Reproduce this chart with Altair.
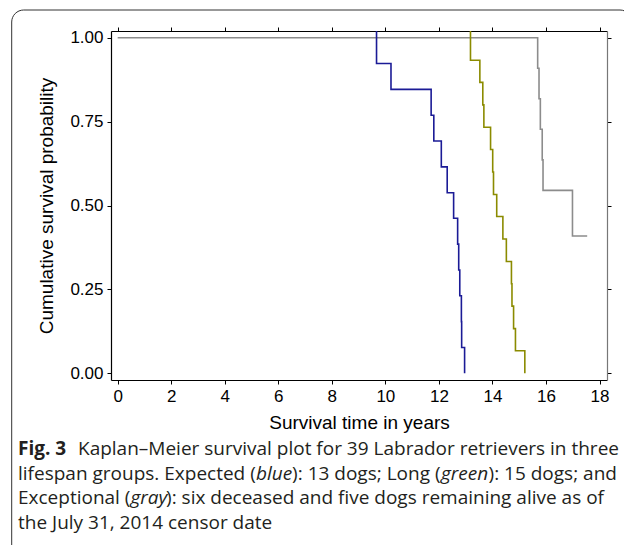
import altair as alt
import pandas as pd

# ---------------- data ----------------
Y_TOP = 1.02  # curves enter from the top edge of the plot

expected_time = [9.67, 9.67, 10.21, 11.71, 11.81, 12.09, 12.31, 12.55, 12.70, 12.74, 12.78, 12.84, 12.85, 12.96]
expected_surv = [Y_TOP, 0.923, 0.846, 0.769, 0.692, 0.615, 0.538, 0.462, 0.385, 0.308, 0.231, 0.154, 0.077, 0.0]

long_time = [13.18, 13.18, 13.53, 13.64, 13.68, 13.93, 14.01, 14.04, 14.16, 14.39, 14.52, 14.71, 14.73, 14.79, 14.86, 15.21]
long_surv = [Y_TOP, 0.933, 0.867, 0.800, 0.733, 0.667, 0.600, 0.533, 0.467, 0.400, 0.333, 0.267, 0.200, 0.133, 0.067, 0.0]

exc_time = [0.0, 15.69, 15.74, 15.79, 15.86, 15.89, 16.99, 17.54]
exc_surv = [1.0, 0.909, 0.818, 0.727, 0.636, 0.545, 0.409, 0.409]

x_ticks = [0, 2, 4, 6, 8, 10, 12, 14, 16, 18]
y_ticks = [0.0, 0.25, 0.5, 0.75, 1.0]

x_title = "Survival time in years"
y_title = "Cumulative survival probability"

caption_lines = [
    [("Fig. 3", "bold"), ("Kaplan–Meier survival plot for 39 Labrador retrievers in three", "normal")],
    [("lifespan groups. Expected (", "normal"), ("blue", "italic"), ("): 13 dogs; Long (", "normal"),
     ("green", "italic"), ("): 15 dogs; and", "normal")],
    [("Exceptional (", "normal"), ("gray", "italic"), ("): six deceased and five dogs remaining alive as of", "normal")],
    [("the July 31, 2014 censor date", "normal")],
]

COL_BLUE = "#1b1b96"
COL_GREEN = "#8b8b00"
COL_GRAY = "#8c8c8c"

# ---------------- layout ----------------
W, H = 496, 349
PAD = {"left": 103, "top": 23, "right": 17, "bottom": 165}
XDOM = [-0.25, 18.28]
YDOM = [-0.02, 1.02]

CAP_FONT = "Open Sans"
CAP_SIZE = 19
CAP_X0 = -93
CAP_Y0 = 418
CAP_DY = 24.5

# approximate Open Sans advance widths (em)
_w = {' ': .260, '(': .296, ')': .296, ':': .266, ';': .266, '.': .266, ',': .245, '–': .5,
      'A': .633, 'C': .631, 'E': .556, 'F': .516, 'J': .266, 'K': .590, 'L': .519, 'M': .813,
      'a': .556, 'b': .613, 'c': .476, 'd': .613, 'e': .561, 'f': .339, 'g': .548, 'h': .614,
      'i': .253, 'l': .253, 'm': .930, 'n': .614, 'o': .604, 'p': .613, 'r': .408, 's': .477,
      't': .353, 'u': .614, 'v': .501, 'w': .778, 'x': .524, 'y': .502}
for d in "0123456789":
    _w[d] = .572


def text_width(s, style):
    f = {"bold": 1.08, "italic": 0.93}.get(style, 1.0)
    return sum(_w.get(c, .55) for c in s) * CAP_SIZE * f


def make_df(name, t, s):
    return pd.DataFrame({"time": t, "surv": s, "idx": list(range(len(t))), "group": name})


def line_layer(df, color, xaxis, yaxis):
    return alt.Chart(df).mark_line(interpolate="step-after", strokeWidth=1.6, color=color).encode(
        x=alt.X("time:Q", scale=alt.Scale(domain=XDOM, nice=False, zero=False), axis=xaxis),
        y=alt.Y("surv:Q", scale=alt.Scale(domain=YDOM, nice=False, zero=False), axis=yaxis),
        order=alt.Order("idx:Q"),
    )


common = dict(labelFont="Liberation Sans", labelFontSize=17, labelColor="#000",
              tickColor="#000", tickSize=4, domainColor="#000", domainWidth=1.2, tickWidth=1,
              grid=False, titleFont="Liberation Sans", titleFontSize=19,
              titleFontWeight="normal", titleColor="#000")

x_bottom = alt.Axis(orient="bottom", values=x_ticks, format="d", title=x_title, labelPadding=4,
                    titlePadding=9, **common)
y_left = alt.Axis(orient="left", values=y_ticks, format=".2f", title=y_title, labelPadding=4,
                  titlePadding=13, **common)
x_top = alt.Axis(orient="top", values=x_ticks, labels=False, title=None, **common)
y_right = alt.Axis(orient="right", values=y_ticks, labels=False, title=None,
                   **{**common, "domainColor": "#777"})

layers = [
    line_layer(make_df("Exceptional", exc_time, exc_surv), COL_GRAY, x_bottom, y_left),
    line_layer(make_df("Long", long_time, long_surv), COL_GREEN, x_top, y_right),
    line_layer(make_df("Expected", expected_time, expected_surv), COL_BLUE, None, None),
]

one = alt.InlineData(values=[{"k": 1}])

# outer rounded frame
layers.append(
    alt.Chart(one).mark_rect(cornerRadius=12, fillOpacity=0, stroke="#333", strokeWidth=1).encode(
        x=alt.value(-99.3), x2=alt.value(521), y=alt.value(-21), y2=alt.value(530)
    )
)

# caption
for i, segs in enumerate(caption_lines):
    x = CAP_X0
    y = CAP_Y0 + i * CAP_DY
    for text, style in segs:
        mk = dict(align="left", baseline="middle", font=CAP_FONT, fontSize=CAP_SIZE, color="#231f20")
        if style == "bold":
            mk["fontWeight"] = "bold"
        if style == "italic":
            mk["fontStyle"] = "italic"
        layers.append(
            alt.Chart(one).mark_text(**mk).encode(x=alt.value(x), y=alt.value(y), text=alt.value(text))
        )
        x += text_width(text, style) + (CAP_SIZE * 0.55 if style == "bold" else 0)

chart = alt.layer(*layers).properties(
    width=W, height=H,
    autosize=alt.AutoSizeParams(type="none"),
    padding=PAD,
    background="white",
).configure_view(stroke=None)

chart.save("out.html", embed_options={"renderer": "svg", "actions": False})
